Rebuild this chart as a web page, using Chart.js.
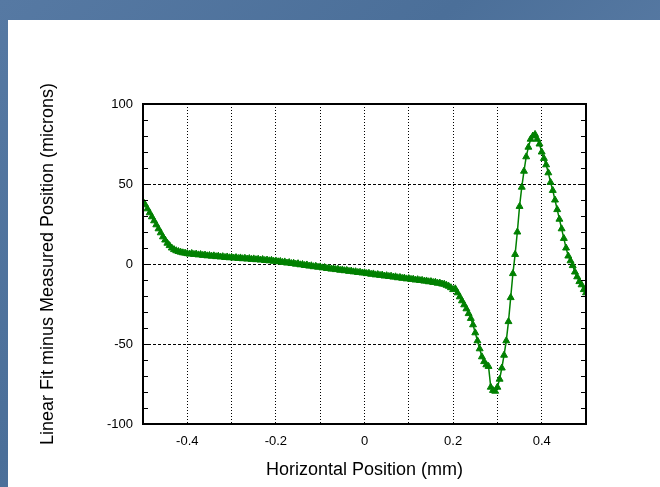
<!DOCTYPE html>
<html>
<head>
<meta charset="utf-8">
<script src="https://cdn.jsdelivr.net/npm/chart.js@4.4.0/dist/chart.umd.min.js"></script>
<style>
  html, body { margin: 0; padding: 0; }
  body {
    width: 660px; height: 487px; overflow: hidden; position: relative;
    background: linear-gradient(135deg, #5679a3 0%, #4b6f99 40%, #5a7ca5 70%, #4d709a 100%);
  }
  #panel { position: absolute; left: 8px; top: 20px; width: 652px; height: 467px; background: #fff; }
  #chart { position: absolute; left: 0; top: 0; }
</style>
</head>
<body>
<div id="panel"></div>
<canvas id="chart" width="660" height="487"></canvas>
<script>
// horizontal position (mm)
const xPos = [
  -0.500,-0.495,-0.490,-0.485,-0.480,-0.475,-0.470,-0.465,-0.460,-0.455,
  -0.450,-0.445,-0.440,-0.435,-0.430,-0.425,-0.420,-0.415,-0.410,-0.405,
  -0.400,-0.395,-0.390,-0.385,-0.380,-0.375,-0.370,-0.365,-0.360,-0.355,
  -0.350,-0.345,-0.340,-0.335,-0.330,-0.325,-0.320,-0.315,-0.310,-0.305,
  -0.300,-0.295,-0.290,-0.285,-0.280,-0.275,-0.270,-0.265,-0.260,-0.255,
  -0.250,-0.245,-0.240,-0.235,-0.230,-0.225,-0.220,-0.215,-0.210,-0.205,
  -0.200,-0.195,-0.190,-0.185,-0.180,-0.175,-0.170,-0.165,-0.160,-0.155,
  -0.150,-0.145,-0.140,-0.135,-0.130,-0.125,-0.120,-0.115,-0.110,-0.105,
  -0.100,-0.095,-0.090,-0.085,-0.080,-0.075,-0.070,-0.065,-0.060,-0.055,
  -0.050,-0.045,-0.040,-0.035,-0.030,-0.025,-0.020,-0.015,-0.010,-0.005,
   0.000, 0.005, 0.010, 0.015, 0.020, 0.025, 0.030, 0.035, 0.040, 0.045,
   0.050, 0.055, 0.060, 0.065, 0.070, 0.075, 0.080, 0.085, 0.090, 0.095,
   0.100, 0.105, 0.110, 0.115, 0.120, 0.125, 0.130, 0.135, 0.140, 0.145,
   0.150, 0.155, 0.160, 0.165, 0.170, 0.175, 0.180, 0.185, 0.190, 0.195,
   0.200, 0.205, 0.210, 0.215, 0.220, 0.225, 0.230, 0.235, 0.240, 0.245,
   0.250, 0.255, 0.260, 0.265, 0.270, 0.275, 0.280, 0.285, 0.290, 0.295,
   0.300, 0.305, 0.310, 0.315, 0.320, 0.325, 0.330, 0.335, 0.340, 0.345,
   0.350, 0.355, 0.360, 0.365, 0.370, 0.375, 0.380, 0.385, 0.390, 0.395,
   0.400, 0.405, 0.410, 0.415, 0.420, 0.425, 0.430, 0.435, 0.440, 0.445,
   0.450, 0.455, 0.460, 0.465, 0.470, 0.475, 0.480, 0.485, 0.490, 0.495,
   0.500
];

// linear fit minus measured position (microns)
const residual = [
  39, 37, 34.5, 32, 29.5, 27, 24.5, 22, 19.5, 17,
  15, 13, 11.5, 10, 9, 8.3, 7.8, 7.4, 7.0, 6.8,
  6.5, 6.2, 6.6, 6.0, 6.2, 5.7, 5.9, 5.4, 5.6, 5.1,
  5.3, 4.9, 5.1, 4.6, 4.9, 4.4, 4.6, 4.1, 4.4, 3.9,
  4.2, 3.7, 4.0, 3.5, 3.8, 3.3, 3.6, 3.1, 3.4, 2.9,
  3.2, 2.7, 3.0, 2.5, 2.8, 2.2, 2.5, 2.0, 2.3, 1.7,
  1.9, 1.4, 1.6, 1.0, 1.3, 0.6, 0.9, 0.3, 0.5, -0.1,
  0.2, -0.5, -0.3, -0.9, -0.6, -1.3, -1.1, -1.7, -1.4, -2.0,
  -1.8, -2.4, -2.2, -2.8, -2.6, -3.2, -3.0, -3.5, -3.3, -3.9,
  -3.7, -4.2, -4.0, -4.6, -4.4, -4.9, -4.8, -5.3, -5.1, -5.6,
  -5.5, -6.0, -5.8, -6.4, -6.2, -6.8, -6.6, -7.1, -6.9, -7.5,
  -7.3, -7.8, -7.6, -8.2, -8.0, -8.6, -8.4, -8.9, -8.8, -9.3,
  -9.1, -9.6, -9.5, -10.0, -9.8, -10.3, -10.2, -10.7, -10.6, -11.1,
  -11.0, -11.5, -11.4, -12.0, -11.9, -12.5, -12.6, -13.3, -13.9, -14.8,
  -16.0, -15.5, -18.0, -20.5, -23.0, -25.5, -28.0, -31.0, -34.0, -38.0,
  -43, -48, -53, -58, -61, -63, -64, -77, -79, -79.5,
  -77, -72, -65, -57, -48, -36, -21, -6, 6, 20,
  36, 48, 58, 67, 73, 78, 80, 81, 78, 75,
  70, 66, 62, 57, 51, 46, 40, 34, 28, 22,
  16, 10, 5, 2, -1, -5, -8, -11, -13, -16,
  -18
];

// axis ticks
const xTickValues = [-0.5, -0.4, -0.3, -0.2, -0.1, 0, 0.1, 0.2, 0.3, 0.4, 0.5];
const xTickLabels = ['', '-0.4', '', '-0.2', '', '0', '', '0.2', '', '0.4', ''];
const yTickValues = [-100, -90, -80, -70, -60, -50, -40, -30, -20, -10, 0, 10, 20, 30, 40, 50, 60, 70, 80, 90, 100];
const yLabelled = [-100, -50, 0, 50, 100];
const yGridValues = [-50, 0, 50];

const points = xPos.map((x, i) => ({ x: x, y: residual[i] }));

// solid frame plus short inward ticks on the left and right axes
const framePlugin = {
  id: 'frame',
  afterDatasetsDraw(chart) {
    const { ctx, chartArea: a, scales } = chart;
    ctx.save();
    ctx.strokeStyle = '#000';
    ctx.lineWidth = 1;
    ctx.beginPath();
    yTickValues.forEach(v => {
      if (v === -100 || v === 100) return;
      const y = Math.round(scales.y.getPixelForValue(v)) + 0.5;
      ctx.moveTo(a.left, y); ctx.lineTo(a.left + 5, y);
      ctx.moveTo(a.right, y); ctx.lineTo(a.right - 5, y);
    });
    ctx.stroke();
    ctx.lineWidth = 2;
    ctx.strokeRect(a.left, a.top, a.right - a.left, a.bottom - a.top);
    ctx.restore();
  }
};

const font = 'Liberation Sans, Arial, sans-serif';

new Chart(document.getElementById('chart'), {
  type: 'line',
  data: {
    datasets: [{
      data: points,
      borderColor: '#008000',
      backgroundColor: '#008000',
      borderWidth: 1.5,
      pointStyle: 'triangle',
      pointRadius: 4,
      pointBorderWidth: 1,
      pointBorderColor: '#008000',
      pointBackgroundColor: '#008000',
      tension: 0,
      fill: false
    }]
  },
  options: {
    responsive: false,
    animation: false,
    layout: { padding: { left: 0, right: 74, top: 104, bottom: 0 } },
    plugins: {
      legend: { display: false },
      tooltip: { enabled: false }
    },
    scales: {
      x: {
        type: 'linear',
        min: -0.5,
        max: 0.5,
        afterBuildTicks: scale => { scale.ticks = xTickValues.map(v => ({ value: v })); },
        afterFit: scale => { scale.height = 63; },
        ticks: {
          autoSkip: false,
          maxRotation: 0,
          padding: 10,
          color: '#000',
          font: { family: font, size: 13 },
          callback: (v, i) => xTickLabels[i]
        },
        grid: {
          drawTicks: false,
          lineWidth: 1,
          color: c => (c.tick && Math.abs(c.tick.value) < 0.45) ? '#000' : 'rgba(0,0,0,0)'
        },
        border: { display: false, dash: [1, 2] },
        title: {
          display: true,
          text: 'Horizontal Position (mm)',
          color: '#000',
          font: { family: font, size: 18 },
          padding: { top: 0, bottom: 6 }
        }
      },
      y: {
        type: 'linear',
        min: -100,
        max: 100,
        afterBuildTicks: scale => { scale.ticks = yTickValues.map(v => ({ value: v })); },
        afterFit: scale => { scale.width = 143; },
        ticks: {
          autoSkip: false,
          padding: 10,
          color: '#000',
          font: { family: font, size: 13 },
          callback: v => yLabelled.includes(v) ? String(v) : ''
        },
        grid: {
          drawTicks: false,
          lineWidth: 1,
          color: c => (c.tick && yGridValues.includes(c.tick.value)) ? '#000' : 'rgba(0,0,0,0)'
        },
        border: { display: false, dash: [3, 2] },
        title: {
          display: true,
          text: 'Linear Fit minus Measured Position (microns)',
          color: '#000',
          font: { family: font, size: 18 },
          padding: { top: 37, bottom: 0 }
        }
      }
    }
  },
  plugins: [framePlugin]
});
</script>
</body>
</html>
